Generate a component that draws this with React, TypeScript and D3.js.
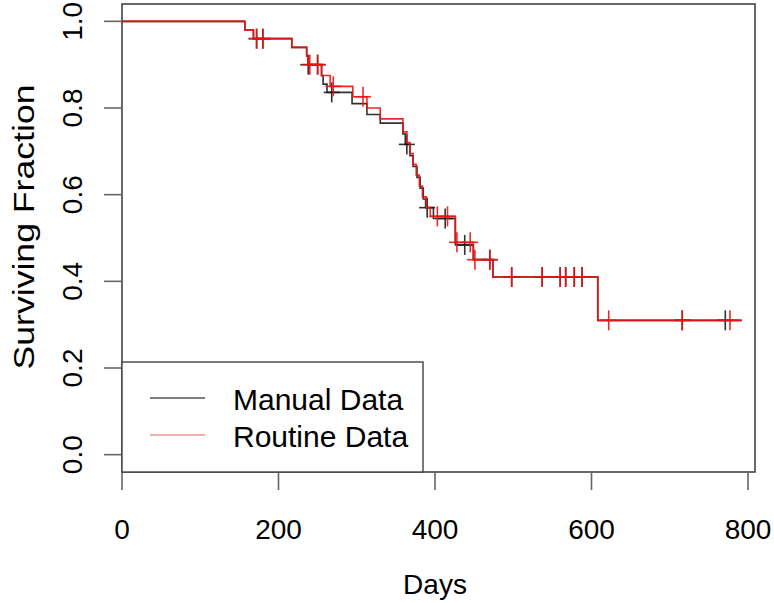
import React from "react";
import * as d3 from "d3";

const xTicks = [0, 200, 400, 600, 800];
const yTicks = [0, 0.2, 0.4, 0.6, 0.8, 1.0];
const yTickLabels = ["0.0", "0.2", "0.4", "0.6", "0.8", "1.0"];

const manualTimes = [0, 157, 168, 217, 236, 238, 255, 257, 262, 294, 313, 330, 359, 362, 368, 372, 377, 381, 385, 388, 398, 426, 449, 474, 608];
const manualSurv = [1, 0.98, 0.96, 0.94, 0.92, 0.9, 0.875, 0.855, 0.836, 0.81, 0.785, 0.765, 0.74, 0.716, 0.69, 0.665, 0.64, 0.615, 0.59, 0.57, 0.545, 0.484, 0.45, 0.41, 0.31];
const manualCensor = [172, 180, 238, 250, 268, 364, 390, 413, 438, 470, 498, 537, 560, 567, 578, 588, 716, 771];

const routineTimes = [0, 157, 168, 217, 236, 238, 255, 266, 295, 313, 330, 359, 364, 368, 372, 376, 380, 384, 389, 394, 426, 449, 474, 608];
const routineSurv = [1, 0.98, 0.96, 0.94, 0.92, 0.9, 0.875, 0.85, 0.826, 0.8, 0.775, 0.745, 0.72, 0.695, 0.67, 0.645, 0.62, 0.595, 0.57, 0.55, 0.49, 0.45, 0.41, 0.31];
const routineCensor = [172, 180, 240, 250, 270, 308, 403, 416, 428, 445, 451, 470, 498, 537, 560, 567, 578, 588, 622, 716, 777];

const endTime = 792;

const seriesNames = ["Manual Data", "Routine Data"];

const FONT = "'Liberation Sans', Arial, sans-serif";

const L = 122, R = 755, T = 4, B = 472;

function survAt(times: number[], surv: number[], t: number) {
  let v = surv[0];
  for (let i = 0; i < times.length; i++) if (times[i] <= t) v = surv[i];
  return v;
}

export default function App() {
  const x = d3.scaleLinear().domain([0, 800]).range([L, 748]);
  const y = d3.scaleLinear().domain([-0.04, 1.04]).range([B, T]);
  const line = d3
    .line<[number, number]>()
    .x((d) => x(d[0]))
    .y((d) => y(d[1]))
    .curve(d3.curveStepAfter);

  const mk = (times: number[], surv: number[]) => {
    const pts: [number, number][] = times.map((t, i) => [t, surv[i]]);
    pts.push([endTime, surv[surv.length - 1]]);
    return line(pts) || "";
  };

  const series = [
    { times: manualTimes, surv: manualSurv, cens: manualCensor, color: "#1a1a1a", legend: "#555" },
    { times: routineTimes, surv: routineSurv, cens: routineCensor, color: "#ee1111", legend: "#f49090" },
  ];

  const cw = 8, ch = 10;

  return (
    <div style={{ position: "absolute", left: 0, top: 0 }}>
      <svg width={774} height={603} style={{ display: "block", background: "#fff" }}>
        {series.map((s, i) => (
          <g key={i}>
            <path d={mk(s.times, s.surv)} fill="none" stroke={s.color} strokeWidth={1.6} strokeOpacity={0.9} />
            {s.cens.map((t, j) => {
              const cx = x(t);
              const cy = y(survAt(s.times, s.surv, t));
              return (
                <g key={j} stroke={s.color} strokeWidth={1.6} strokeOpacity={0.9}>
                  <line x1={cx - cw} x2={cx + cw} y1={cy} y2={cy} />
                  <line x1={cx} x2={cx} y1={cy - ch} y2={cy + ch} />
                </g>
              );
            })}
          </g>
        ))}
        <rect x={L} y={T} width={R - L} height={B - T} fill="none" stroke="#444" strokeWidth={1.6} />
        {yTicks.map((v, i) => (
          <g key={i}>
            <line x1={L - 18} x2={L} y1={y(v)} y2={y(v)} stroke="#666" strokeWidth={1.6} />
            <text
              transform={`translate(${72},${y(v)}) rotate(-90)`}
              textAnchor="middle"
              dominantBaseline="central"
              fontFamily={FONT}
              fontSize={28}
              fill="#000"
            >
              {yTickLabels[i]}
            </text>
          </g>
        ))}
        {xTicks.map((v, i) => (
          <g key={i}>
            <line x1={x(v)} x2={x(v)} y1={B} y2={B + 18} stroke="#666" strokeWidth={1.6} />
            <text x={x(v)} y={539} textAnchor="middle" fontFamily={FONT} fontSize={28} fill="#000">
              {String(v)}
            </text>
          </g>
        ))}
        <text x={435} y={594} textAnchor="middle" fontFamily={FONT} fontSize={28} fill="#000">
          Days
        </text>
        <text
          transform={`translate(${24},${227}) rotate(-90)`}
          textAnchor="middle"
          dominantBaseline="central"
          fontFamily={FONT}
          fontSize={29}
          textLength={285}
          lengthAdjust="spacingAndGlyphs"
          fill="#000"
        >
          Surviving Fraction
        </text>
        <rect x={L} y={362} width={423 - L} height={B - 362} fill="#fff" stroke="#444" strokeWidth={1.4} />
        {series.map((s, i) => (
          <g key={i}>
            <line x1={150} x2={205} y1={398 + i * 37} y2={398 + i * 37} stroke={s.legend} strokeWidth={1.6} />
            <text x={233} y={410 + i * 37} fontFamily={FONT} fontSize={30} fill="#000">
              {seriesNames[i]}
            </text>
          </g>
        ))}
      </svg>
    </div>
  );
}
